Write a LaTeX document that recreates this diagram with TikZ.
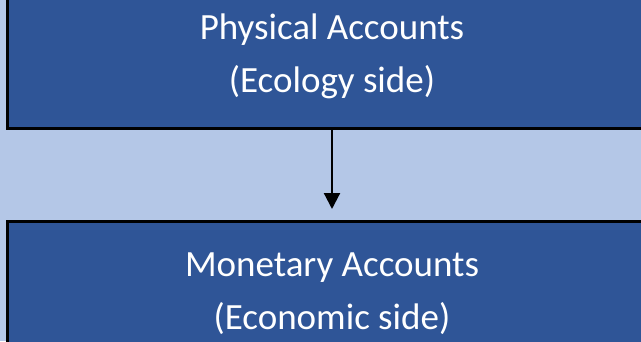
\documentclass[tikz,border=0pt]{standalone}
\usepackage{fontspec}
\setmainfont{Carlito}
\usetikzlibrary{arrows.meta,positioning}
\definecolor{darkblue}{HTML}{2F5597}
\definecolor{lightblue}{HTML}{B4C7E7}

\begin{document}
\begin{tikzpicture} [x=1pt,y=1pt,line width=3pt,font=\fontsize{37}{53}\selectfont]

  \useasboundingbox (0,0) rectangle (641,341);
  \clip (0,0) rectangle (641,341);
  \fill[lightblue] (0,0) rectangle (641,341);

  \tikzset{acct/.style={rectangle, draw=black, fill=darkblue, text=white, align=center,
    minimum width=649pt, inner sep=0pt}}

  \node[acct] (phys) [minimum height=143.5pt] at (332,284.25) {Physical Accounts\\(Ecology side)};
  \node[acct] (mon) [minimum height=144pt] at (332,47.5) {Monetary Accounts\\(Economic side)};

  \path[-{Triangle[width=16pt,length=16pt]},line width=2.2pt,shorten >=11pt]
    (phys) edge (mon);

\end{tikzpicture}
\end{document}
